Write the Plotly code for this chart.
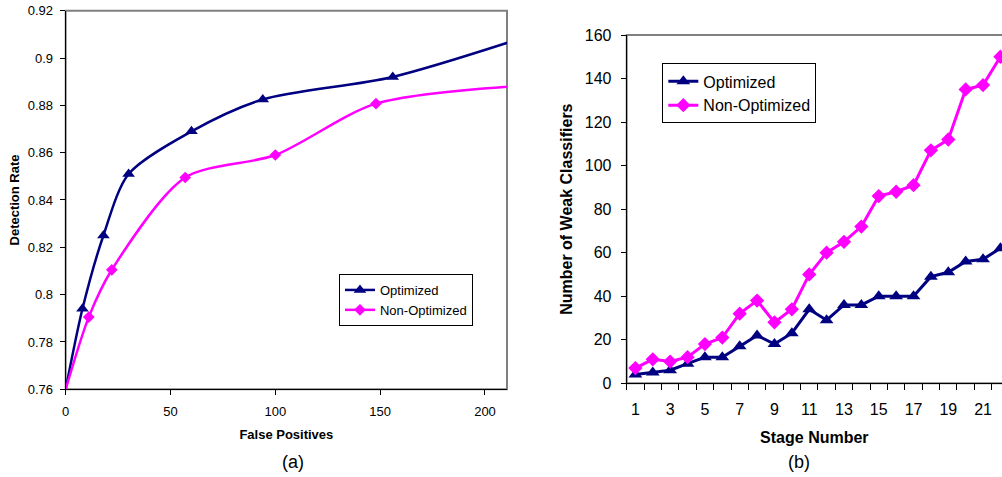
import plotly.graph_objects as go

# ---- Panel (a) data ----
fp_opt = [0, 8, 18, 30, 60, 94, 156, 230]
dr_opt = [0.76, 0.794, 0.825, 0.851, 0.869, 0.8825, 0.892, 0.912]
fp_non = [0, 11, 22, 57, 100, 148, 230]
dr_non = [0.76, 0.7905, 0.8105, 0.8495, 0.859, 0.8807, 0.889]

# ---- Panel (b) data ----
stages = list(range(1, 23))
weak_opt = [4, 5, 6, 9, 12, 12, 17, 22, 18, 23, 34, 29, 36, 36, 40, 40, 40, 49, 51, 56, 57, 62]
weak_non = [7, 11, 10, 12, 18, 21, 32, 38, 28, 34, 50, 60, 65, 72, 86, 88, 91, 107, 112, 135, 137, 150]
stage_ticks = list(range(1, 22, 2))

NAVY = "#000080"
MAG = "#FF00FF"
FONT = "Arial, Liberation Sans, sans-serif"

fig = go.Figure()

# Left panel: smooth lines through all points, markers at the measured points
for xs, ys, col, sym, msz, name in [
    (fp_opt, dr_opt, NAVY, "triangle-up", 11, "Optimized"),
    (fp_non, dr_non, MAG, "diamond", 9, "Non-Optimized"),
]:
    fig.add_trace(go.Scatter(x=xs, y=ys, mode="lines", showlegend=False,
                             line=dict(color=col, width=2.5, shape="spline", smoothing=0.8),
                             xaxis="x", yaxis="y"))
    fig.add_trace(go.Scatter(x=xs[1:-1], y=ys[1:-1], mode="markers", showlegend=False,
                             marker=dict(symbol=sym, size=msz, color=col),
                             xaxis="x", yaxis="y"))
    fig.add_trace(go.Scatter(x=[None], y=[None], mode="lines+markers", name=name,
                             line=dict(color=col, width=2.5),
                             marker=dict(symbol=sym, size=msz, color=col),
                             xaxis="x", yaxis="y", legend="legend"))

# Right panel traces
fig.add_trace(go.Scatter(x=stages, y=weak_opt, mode="lines+markers", name="Optimized",
                         line=dict(color=NAVY, width=3),
                         marker=dict(symbol="triangle-up", size=12, color=NAVY),
                         xaxis="x2", yaxis="y2", legend="legend2"))
fig.add_trace(go.Scatter(x=stages, y=weak_non, mode="lines+markers", name="Non-Optimized",
                         line=dict(color=MAG, width=3),
                         marker=dict(symbol="diamond", size=11, color=MAG),
                         xaxis="x2", yaxis="y2", legend="legend2"))


def ax(**kw):
    d = dict(showgrid=False, zeroline=False, showline=True, linecolor="black",
             linewidth=1, ticks="outside", tickcolor="black", ticklen=5,
             automargin=False)
    d.update(kw)
    return d


fig.update_layout(
    width=1002, height=477,
    margin=dict(l=0, r=0, t=0, b=0, autoexpand=False),
    paper_bgcolor="white", plot_bgcolor="white",
    font=dict(family=FONT, color="black"),
    xaxis=ax(domain=[0.06557, 0.50599], range=[0, 210.5],
             tickvals=[0, 50, 100, 150, 200], anchor="y", ticklabelstandoff=5,
             tickfont=dict(family=FONT, size=13, color="black"),
             title=dict(text="<b>False Positives</b>", font=dict(size=13), standoff=12)),
    yaxis=ax(domain=[0.1839, 0.9776], range=[0.76, 0.92], dtick=0.02,
             tick0=0.76, anchor="x", ticklabelstandoff=4,
             tickfont=dict(family=FONT, size=13, color="black"),
             title=dict(text="<b>Detection Rate</b>", font=dict(size=13), standoff=5)),
    xaxis2=ax(domain=[0.62545, 1.0], range=[0.5, 22.09],
              tickvals=stage_ticks, anchor="y2", ticks="", ticklabelstandoff=12,
              tickfont=dict(family=FONT, size=16, color="black"),
              minor=dict(tickmode="linear", tick0=0.5, dtick=1, ticks="outside",
                         ticklen=6, tickcolor="black"),
              title=dict(text="<b>Stage Number</b>", font=dict(size=16), standoff=14)),
    yaxis2=ax(domain=[0.19644, 0.92662], range=[0, 160], dtick=20,
              anchor="x2", ticklabelstandoff=6,
              tickfont=dict(family=FONT, size=16, color="black"),
              title=dict(text="<b>Number of Weak Classifiers</b>", font=dict(size=16), standoff=8)),
    legend=dict(x=0.3383, y=0.4256, xanchor="left", yanchor="top",
                bgcolor="white", bordercolor="black", borderwidth=1,
                font=dict(family=FONT, size=13, color="black"), tracegroupgap=0),
    legend2=dict(x=0.661, y=0.867, xanchor="left", yanchor="top",
                 bgcolor="white", bordercolor="black", borderwidth=1,
                 font=dict(family=FONT, size=16, color="black"), tracegroupgap=0),
    showlegend=True,
)

# gray plot-area borders (top/right)
fig.add_shape(type="rect", xref="x domain", yref="y domain", x0=0, x1=1, y0=0, y1=1,
              line=dict(color="#808080", width=2), layer="below")
fig.add_shape(type="rect", xref="x2 domain", yref="y2 domain", x0=0, x1=1.01, y0=0, y1=1,
              line=dict(color="#808080", width=2), layer="below")

fig.add_annotation(text="(a)", xref="paper", yref="paper", x=280 / 1002, y=1 - 462 / 477,
                   yanchor="middle", showarrow=False,
                   font=dict(family=FONT, size=18, color="black"))
fig.add_annotation(text="(b)", xref="paper", yref="paper", x=812 / 1002, y=1 - 462 / 477,
                   yanchor="middle", showarrow=False,
                   font=dict(family=FONT, size=18, color="black"))

fig.write_html("out.html", config={"displayModeBar": False},
               post_script="document.body.style.margin='0';")
